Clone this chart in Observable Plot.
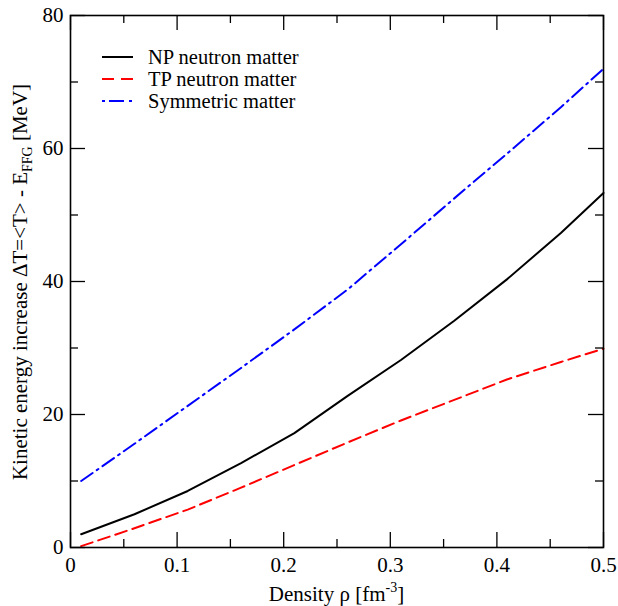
<!DOCTYPE html>
<html>
<head>
<meta charset="utf-8">
<script src="https://cdn.jsdelivr.net/npm/d3@7"></script>
<script src="https://cdn.jsdelivr.net/npm/@observablehq/plot@0.6"></script>
<style>
  html, body { margin: 0; padding: 0; background: #fff; }
  svg { display: block; }
  svg text { font-family: "Liberation Serif", "Times New Roman", serif !important; }
</style>
</head>
<body>
<div id="chart"></div>
<script>
// Density grid [fm^-3]
const rho = [0.01, 0.06, 0.11, 0.16, 0.21, 0.26, 0.31, 0.36, 0.41, 0.46, 0.5];
// Kinetic energy increase [MeV]
const npNeutron = [2.0, 5.0, 8.5, 12.7, 17.2, 22.8, 28.2, 34.1, 40.4, 47.3, 53.3];
const tpNeutron = [0.2, 2.9, 5.7, 9.0, 12.4, 15.8, 19.1, 22.2, 25.3, 27.9, 29.9];
const symmetric = [10.0, 15.6, 21.3, 27.0, 32.8, 38.8, 45.6, 52.5, 59.3, 66.2, 72.0];

const seriesNames = ["NP neutron matter", "TP neutron matter", "Symmetric matter"];
const seriesColors = ["#000000", "#ff0000", "#0000ff"];
const seriesDash = [null, "12,6", "14,5,2,5"];
const legendDash = [null, "12,7", "3,4,15,5"];

const xMajor = [0, 0.1, 0.2, 0.3, 0.4, 0.5];
const xMinor = [0.05, 0.15, 0.25, 0.35, 0.45];
const yMajor = [0, 20, 40, 60, 80];
const yMinor = [10, 30, 50, 70];

const rows = rho.map((r, i) => ({rho: r, np: npNeutron[i], tp: tpNeutron[i], sym: symmetric[i]}));

const W = 618, H = 606, mL = 70, mR = 15, mT = 15, mB = 59;
const pw = W - mL - mR, ph = H - mT - mB;
const FONT = "Liberation Serif, serif";
const major = 15, minor = 8;

const svg = Plot.plot({
  width: W, height: H,
  marginLeft: mL, marginRight: mR, marginTop: mT, marginBottom: mB,
  x: {domain: [0, 0.5]},
  y: {domain: [0, 80]},
  style: {fontFamily: FONT, fontSize: "21px", background: "white", color: "black"},
  marks: [
    Plot.line(rows, {x: "rho", y: "np", stroke: seriesColors[0], strokeWidth: 2}),
    Plot.line(rows, {x: "rho", y: "tp", stroke: seriesColors[1], strokeWidth: 2, strokeDasharray: seriesDash[1]}),
    Plot.line(rows, {x: "rho", y: "sym", stroke: seriesColors[2], strokeWidth: 2, strokeDasharray: seriesDash[2]}),
    // inward ticks on all four sides
    Plot.tickX(xMajor, {x: d => d, insetTop: ph - major, stroke: "black", strokeWidth: 1.3}),
    Plot.tickX(xMajor, {x: d => d, insetBottom: ph - major, stroke: "black", strokeWidth: 1.3}),
    Plot.tickX(xMinor, {x: d => d, insetTop: ph - minor, stroke: "black", strokeWidth: 1.3}),
    Plot.tickX(xMinor, {x: d => d, insetBottom: ph - minor, stroke: "black", strokeWidth: 1.3}),
    Plot.tickY(yMajor, {y: d => d, insetRight: pw - major, stroke: "black", strokeWidth: 1.3}),
    Plot.tickY(yMajor, {y: d => d, insetLeft: pw - major, stroke: "black", strokeWidth: 1.3}),
    Plot.tickY(yMinor, {y: d => d, insetRight: pw - minor, stroke: "black", strokeWidth: 1.3}),
    Plot.tickY(yMinor, {y: d => d, insetLeft: pw - minor, stroke: "black", strokeWidth: 1.3}),
    Plot.axisX(xMajor, {tickSize: 0, tickPadding: 10, label: null, fontSize: 21, tickFormat: d => String(d)}),
    Plot.axisY(yMajor, {tickSize: 0, tickPadding: 7, label: null, fontSize: 21, tickFormat: d => String(d)}),
    Plot.frame({stroke: "black", strokeWidth: 1.6})
  ]
});

const s = d3.select(svg);

// X axis title
const xt = s.append("text")
  .attr("x", mL + pw / 2).attr("y", 601)
  .attr("text-anchor", "middle")
  .attr("font-family", FONT).attr("font-size", 21).attr("fill", "black");
xt.append("tspan").text("Density ρ [fm");
xt.append("tspan").attr("dy", -9).attr("font-size", 14).text("-3");
xt.append("tspan").attr("dy", 9).text("]");

// Y axis title
const yt = s.append("text")
  .attr("transform", `translate(27,${mT + ph / 2 + 1}) rotate(-90)`)
  .attr("text-anchor", "middle")
  .attr("font-family", FONT).attr("font-size", 21).attr("fill", "black");
yt.append("tspan").text("Kinetic energy increase ΔT=<T> - E");
yt.append("tspan").attr("dy", 5).attr("font-size", 14).text("FFG");
yt.append("tspan").attr("dy", -5).text(" [MeV]");

// Legend
const legendY = [57, 79, 101];
seriesNames.forEach((name, i) => {
  const ln = s.append("line")
    .attr("x1", 102).attr("x2", 133)
    .attr("y1", legendY[i]).attr("y2", legendY[i])
    .attr("stroke", seriesColors[i]).attr("stroke-width", 2);
  if (legendDash[i]) ln.attr("stroke-dasharray", legendDash[i]);
  s.append("text")
    .attr("x", 148).attr("y", legendY[i] + 7)
    .attr("text-anchor", "start")
    .attr("font-family", FONT).attr("font-size", 20.5).attr("fill", "black")
    .text(name);
});

document.getElementById("chart").appendChild(svg);
</script>
</body>
</html>
